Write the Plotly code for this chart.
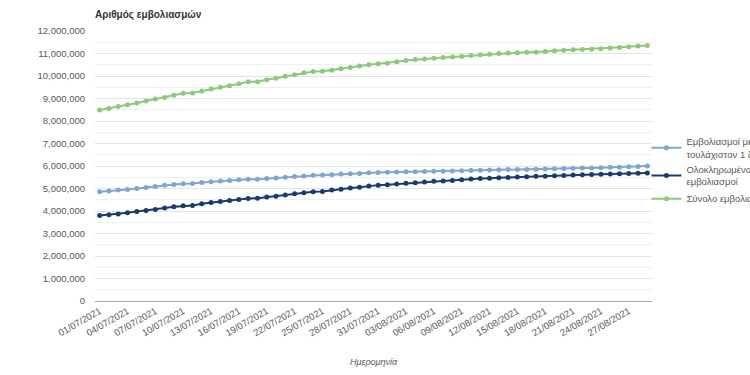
import plotly.graph_objects as go

dates = [
    "01/07/2021", "02/07/2021", "03/07/2021", "04/07/2021", "05/07/2021", "06/07/2021",
    "07/07/2021", "08/07/2021", "09/07/2021", "10/07/2021", "11/07/2021", "12/07/2021",
    "13/07/2021", "14/07/2021", "15/07/2021", "16/07/2021", "17/07/2021", "18/07/2021",
    "19/07/2021", "20/07/2021", "21/07/2021", "22/07/2021", "23/07/2021", "24/07/2021",
    "25/07/2021", "26/07/2021", "27/07/2021", "28/07/2021", "29/07/2021", "30/07/2021",
    "31/07/2021", "01/08/2021", "02/08/2021", "03/08/2021", "04/08/2021", "05/08/2021",
    "06/08/2021", "07/08/2021", "08/08/2021", "09/08/2021", "10/08/2021", "11/08/2021",
    "12/08/2021", "13/08/2021", "14/08/2021", "15/08/2021", "16/08/2021", "17/08/2021",
    "18/08/2021", "19/08/2021", "20/08/2021", "21/08/2021", "22/08/2021", "23/08/2021",
    "24/08/2021", "25/08/2021", "26/08/2021", "27/08/2021", "28/08/2021", "29/08/2021",
]
tick_labels = dates[::3]

# values in millions
at_least_one_dose = [
    4.86, 4.885, 4.93, 4.96, 5.00, 5.05, 5.09, 5.14, 5.18, 5.21,
    5.22, 5.27, 5.30, 5.33, 5.36, 5.39, 5.41, 5.41, 5.44, 5.47,
    5.50, 5.53, 5.555, 5.585, 5.60, 5.615, 5.64, 5.66, 5.67, 5.70,
    5.71, 5.72, 5.73, 5.74, 5.75, 5.76, 5.77, 5.77, 5.78, 5.79,
    5.80, 5.81, 5.82, 5.83, 5.84, 5.84, 5.85, 5.86, 5.87, 5.88,
    5.89, 5.90, 5.91, 5.91, 5.92, 5.94, 5.95, 5.97, 5.98, 6.00,
]
fully_vaccinated = [
    3.80, 3.83, 3.87, 3.92, 3.98, 4.02, 4.07, 4.13, 4.19, 4.23,
    4.24, 4.32, 4.38, 4.42, 4.47, 4.51, 4.56, 4.57, 4.62, 4.66,
    4.71, 4.77, 4.81, 4.86, 4.87, 4.93, 4.97, 5.02, 5.06, 5.11,
    5.15, 5.17, 5.20, 5.23, 5.26, 5.29, 5.32, 5.33, 5.36, 5.39,
    5.42, 5.45, 5.46, 5.48, 5.49, 5.51, 5.52, 5.54, 5.55, 5.57,
    5.58, 5.60, 5.61, 5.62, 5.63, 5.64, 5.66, 5.67, 5.68, 5.69,
]
total_vaccinations = [
    8.49, 8.56, 8.64, 8.72, 8.80, 8.89, 8.98, 9.05, 9.14, 9.23,
    9.24, 9.33, 9.42, 9.50, 9.57, 9.66, 9.74, 9.75, 9.83, 9.90,
    9.99, 10.06, 10.14, 10.20, 10.21, 10.26, 10.32, 10.38, 10.44, 10.50,
    10.54, 10.57, 10.63, 10.69, 10.73, 10.76, 10.79, 10.82, 10.84, 10.87,
    10.91, 10.94, 10.97, 11.00, 11.02, 11.03, 11.05, 11.06, 11.09, 11.12,
    11.14, 11.17, 11.18, 11.19, 11.21, 11.24, 11.27, 11.30, 11.33, 11.36,
]

series_names = [
    "Εμβολιασμοί με<br>τουλάχιστον 1 δόση",
    "Ολοκληρωμένοι<br>εμβολιασμοί",
    "Σύνολο εμβολιασμών",
]
series_colors = ["#7fa6cf", "#1c3b6d", "#8cc97c"]

fig = go.Figure()
for name, vals, color in zip(series_names,
                             [at_least_one_dose, fully_vaccinated, total_vaccinations],
                             series_colors):
    fig.add_trace(go.Scatter(
        x=dates, y=[v * 1e6 for v in vals], name=name, mode="lines+markers",
        line=dict(color=color, width=2), marker=dict(color=color, size=5),
    ))

font_family = "Liberation Sans, Arial, sans-serif"
fig.update_layout(
    width=750, height=375,
    margin=dict(l=95, r=98, t=31, b=74, autoexpand=False),
    paper_bgcolor="white", plot_bgcolor="white",
    font=dict(family=font_family, size=10, color="#595959"),
    title=dict(text="Αριθμός εμβολιασμών", x=95 / 750, xanchor="left",
               y=1 - 14 / 375, yanchor="middle", yref="container",
               font=dict(size=10, color="#333333", family=font_family, weight="bold")),
    xaxis=dict(type="category", tickvals=tick_labels, ticktext=tick_labels,
               tickangle=-30, showgrid=False, showline=True, linecolor="#a6a6a6",
               linewidth=1, ticks="", tickfont=dict(size=9.5, color="#595959"),
               range=[-0.5, len(dates) - 0.5]),
    yaxis=dict(range=[0, 12e6], dtick=1e6, tickformat=",d", showgrid=True,
               gridcolor="#e3e3e3", gridwidth=1, zeroline=False, showline=False,
               tickfont=dict(size=9.5, color="#595959"), ticks="",
               ticklabelstandoff=9,
               minor=dict(dtick=5e5, showgrid=True, gridcolor="#efefef", gridwidth=1)),
    legend=dict(x=0.99, xanchor="left", y=0.6375, yanchor="top",
                font=dict(size=9.5, color="#595959"), bgcolor="rgba(0,0,0,0)"),
    annotations=[dict(text="<i>Ημερομηνία</i>", xref="paper", yref="paper",
                      x=0.5, y=(301 - 362) / 270, xanchor="center", yanchor="middle",
                      showarrow=False, font=dict(size=9, color="#595959"))],
)

fig.write_html("out.html", config={"displayModeBar": False},
               post_script="document.body.style.margin='0';")
